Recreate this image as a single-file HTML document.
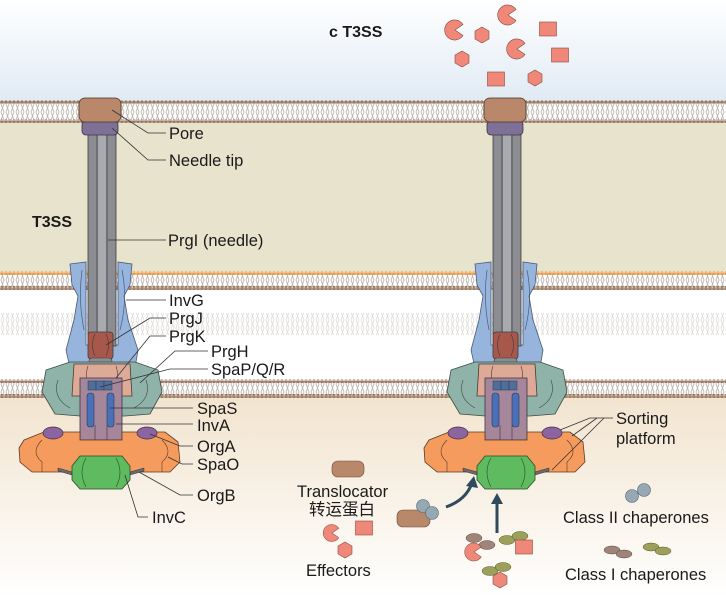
<!DOCTYPE html>
<html><head><meta charset="utf-8"><style>
html,body{margin:0;padding:0;background:#fff}
svg{display:block}
text{font-family:"Liberation Sans","Noto Sans CJK SC",sans-serif;fill:#1a1a1a}
</style></head><body>
<svg width="726" height="599" viewBox="0 0 726 599" xmlns="http://www.w3.org/2000/svg">
<defs>
<linearGradient id="sky" x1="0" y1="0" x2="0" y2="1"><stop offset="0" stop-color="#ffffff"/><stop offset="1" stop-color="#e0eaf4"/></linearGradient>
<linearGradient id="cyto" x1="0" y1="0" x2="0" y2="1"><stop offset="0" stop-color="#f2e4cf"/><stop offset="1" stop-color="#ffffff"/></linearGradient>
<pattern id="lip" width="5" height="16" patternUnits="userSpaceOnUse"><path d="M1 0 L4 8 L1 16 M4 0 L1 8 L4 16" stroke="#bdb6b0" stroke-width="0.9" fill="none"/></pattern>
<pattern id="dots" width="4" height="4" patternUnits="userSpaceOnUse"><circle cx="2" cy="2" r="1.6" fill="#9b7b63"/></pattern>
<pattern id="odots" width="4" height="4" patternUnits="userSpaceOnUse"><circle cx="2" cy="2" r="1.6" fill="#eb9a4a"/></pattern>
<g id="app">
 <path d="M70 264 L86 262 L86 345 L118 345 L118 262 L132 264 L130 285 L124 296 L128 320 L138 350 L135 368 L70 368 L66 350 L74 320 L78 296 L72 285 Z" fill="#97b4dc" stroke="#4a5b7a" stroke-width="0.8"/>
 <path d="M82 270 Q78 300 84 330 M122 270 Q128 300 120 330" stroke="#4a5b7a" stroke-width="0.7" fill="none"/>
 <rect x="88" y="134" width="28" height="212" fill="#8b8d92" stroke="#3c3c40" stroke-width="0.8"/>
 <path d="M97 134 V346 M107 134 V346" stroke="#3c3c40" stroke-width="0.7"/>
 <rect x="98" y="134" width="8" height="212" fill="#a8aaae"/>
 <rect x="88" y="332" width="25" height="27" rx="3" fill="#a8574b" stroke="#3c3c40" stroke-width="0.8"/>
 <path d="M95 334 Q90 345 95 356 M106 334 Q111 345 106 356" stroke="#3c3c40" stroke-width="0.6" fill="none"/>
 <rect x="89" y="358" width="23" height="6" rx="3" fill="#8b8d92" stroke="#3c3c40" stroke-width="0.6"/>
 <path d="M46 370 L70 362 L135 362 L158 370 L162 392 L150 414 L125 416 L80 416 L55 414 L42 392 Z" fill="#8fb3a8" stroke="#3c4a44" stroke-width="0.8"/>
 <path d="M58 380 Q52 398 70 408 M146 380 Q152 398 134 408" stroke="#3c4a44" stroke-width="0.6" fill="none"/>
 <path d="M74 364 L130 364 L132 396 L72 396 Z" fill="#deaa98" stroke="#4a3a36" stroke-width="0.8"/>
 <path d="M88 366 Q84 378 90 386 M116 366 Q120 378 114 386" stroke="#4a3a36" stroke-width="0.6" fill="none"/>
 <path d="M80 378 L122 378 L122 440 L80 440 Z" fill="#a5869a" stroke="#3c3440" stroke-width="0.8"/>
 <path d="M95 425 V440 M107 425 V440" stroke="#3c3440" stroke-width="0.6"/>
 <rect x="87" y="393" width="7" height="34" rx="3" fill="#4a70b8" stroke="#2a3a5a" stroke-width="0.6"/>
 <rect x="107" y="393" width="7" height="34" rx="3" fill="#4a70b8" stroke="#2a3a5a" stroke-width="0.6"/>
 <rect x="88" y="381" width="8" height="9" fill="#4f6f99" stroke="#2a3a5a" stroke-width="0.5"/>
 <rect x="96" y="381" width="8" height="9" fill="#4f6f99" stroke="#2a3a5a" stroke-width="0.5"/>
 <rect x="104" y="381" width="8" height="9" fill="#4f6f99" stroke="#2a3a5a" stroke-width="0.5"/>
 <path d="M24 440 L44 432 L80 432 L80 440 L122 440 L122 432 L165 432 L178 442 L180 462 L170 472 L32 472 L20 462 L19 448 Z" fill="#f59b5e" stroke="#5a3a22" stroke-width="0.8"/>
 <path d="M42 440 Q30 452 42 462 V472 M162 440 Q174 452 162 462 V472" stroke="#5a3a22" stroke-width="0.6" fill="none"/>
 <ellipse cx="53" cy="433" rx="10" ry="6" fill="#8c64a0" stroke="#3c2e44" stroke-width="0.7"/>
 <ellipse cx="147" cy="433" rx="10" ry="6" fill="#8c64a0" stroke="#3c2e44" stroke-width="0.7"/>
 <path d="M58 468 L72 472 L72 475 L58 471 Z M144 468 L130 472 L130 475 L144 471 Z" fill="#6a6a6a" stroke="#333" stroke-width="0.5"/>
 <path d="M80 456 L122 456 L130 466 L130 480 L122 489 L80 489 L72 480 L72 466 Z" fill="#5fbb5f" stroke="#2a4a2a" stroke-width="0.8"/>
 <path d="M86 458 Q78 472 86 487 M116 458 Q124 472 116 487" stroke="#2a4a2a" stroke-width="0.6" fill="none"/>
 <rect x="82" y="121" width="36" height="14" rx="4" fill="#7e7096" stroke="#3c3444" stroke-width="0.8"/>
 <rect x="79" y="98" width="42" height="24" rx="6" fill="#b98769" stroke="#4a3426" stroke-width="0.8"/>
</g>
<g id="pac"><path d="M0 0 L8 -5.5 A10 10 0 1 0 8 5.5 Z" fill="#ef8878" stroke="#8a4a40" stroke-width="0.6"/></g>
<g id="hex"><polygon points="0,-8 7,-4 7,4 0,8 -7,4 -7,-4" fill="#ef8878" stroke="#8a4a40" stroke-width="0.6"/></g>
<g id="sq"><rect x="-8.5" y="-7" width="17" height="14" fill="#ef8878" stroke="#8a4a40" stroke-width="0.6"/></g>
</defs>

<rect x="0" y="0" width="726" height="102" fill="url(#sky)"/>
<rect x="0" y="102" width="726" height="20" fill="#fff"/>
<rect x="0" y="102" width="726" height="20" fill="url(#lip)"/>
<rect x="0" y="101.5" width="726" height="2" fill="#b39680"/>
<rect x="0" y="100" width="726" height="4" fill="url(#dots)"/>
<rect x="0" y="120.5" width="726" height="2" fill="#b39680"/>
<rect x="0" y="119" width="726" height="4" fill="url(#dots)"/>
<rect x="0" y="123" width="726" height="150" fill="#e7e3cd"/>
<rect x="0" y="273" width="726" height="16" fill="#fff"/>
<rect x="0" y="273" width="726" height="16" fill="url(#lip)"/>
<rect x="0" y="272.5" width="726" height="2" fill="#f0b27a"/>
<rect x="0" y="271" width="726" height="4" fill="url(#odots)"/>
<rect x="0" y="287.5" width="726" height="2" fill="#b39680"/>
<rect x="0" y="286" width="726" height="4" fill="url(#dots)"/>
<rect x="0" y="290" width="726" height="90" fill="#fff"/>
<rect x="0" y="313" width="726" height="22" fill="url(#lip)" opacity="0.45"/>
<rect x="0" y="381" width="726" height="16" fill="#fff"/>
<rect x="0" y="381" width="726" height="16" fill="url(#lip)"/>
<rect x="0" y="380.5" width="726" height="2" fill="#b39680"/>
<rect x="0" y="379" width="726" height="4" fill="url(#dots)"/>
<rect x="0" y="395.5" width="726" height="2" fill="#b39680"/>
<rect x="0" y="394" width="726" height="4" fill="url(#dots)"/>
<rect x="0" y="398" width="726" height="201" fill="url(#cyto)"/>

<use href="#app"/>
<use href="#app" transform="translate(405,0)"/>

<g stroke="#333" stroke-width="0.8" fill="none">
<path d="M112 110 L148 133 L166 133"/>
<path d="M112 128 L148 160 L166 160"/>
<path d="M108 240 L166 240"/>
<path d="M126 300 L166 300"/>
<path d="M106 345 L150 318 L166 318"/>
<path d="M116 378 L150 336 L166 336"/>
<path d="M140 383 L175 351 L208 351"/>
<path d="M100 387 L170 369 L208 369"/>
<path d="M110 408 L193 408"/>
<path d="M116 424 L193 424"/>
<path d="M150 434 L180 446 L193 446"/>
<path d="M168 457 L182 464 L193 464"/>
<path d="M139 472 L180 495 L193 495"/>
<path d="M125 475 L138 517 L148 517"/>
</g>
<g font-size="16.5">
<text x="169" y="139">Pore</text>
<text x="169" y="166">Needle tip</text>
<text x="168" y="246">PrgI (needle)</text>
<text x="169" y="306">InvG</text>
<text x="169" y="324">PrgJ</text>
<text x="169" y="342">PrgK</text>
<text x="211" y="357">PrgH</text>
<text x="211" y="375">SpaP/Q/R</text>
<text x="197" y="414">SpaS</text>
<text x="197" y="431">InvA</text>
<text x="197" y="452">OrgA</text>
<text x="197" y="470">SpaO</text>
<text x="197" y="501">OrgB</text>
<text x="152" y="523">InvC</text>
</g>
<text x="32" y="227" font-size="16" font-weight="bold">T3SS</text>
<text x="329" y="37" font-size="16" font-weight="bold">c  T3SS</text>

<g stroke="#333" stroke-width="0.8" fill="none">
<path d="M560 430 L590 418 L613 418"/>
<path d="M572 436 L597 418"/>
<path d="M552 470 L604 418"/>
</g>
<text x="616" y="424" font-size="16.5">Sorting</text>
<text x="616" y="444" font-size="16.5">platform</text>

<use href="#pac" transform="translate(455,30)"/>
<use href="#pac" transform="translate(508,15)"/>
<use href="#pac" transform="translate(517,49)"/>
<use href="#hex" transform="translate(482,35)"/>
<use href="#hex" transform="translate(462,59)"/>
<use href="#hex" transform="translate(535,78)"/>
<use href="#sq" transform="translate(548,29)"/>
<use href="#sq" transform="translate(560,55)"/>
<use href="#sq" transform="translate(496,79)"/>

<rect x="332" y="461" width="32" height="16" rx="6" fill="#b98769" stroke="#6a4a36" stroke-width="0.6"/>
<text x="297" y="497" font-size="16.5">Translocator</text>
<text x="309" y="515" font-size="16.5">转运蛋白</text>
<use href="#pac" transform="translate(332,533) scale(0.85)"/>
<use href="#sq" transform="translate(364,528)"/>
<use href="#hex" transform="translate(345,550)"/>
<text x="306" y="576" font-size="16.5">Effectors</text>

<rect x="397" y="510" width="33" height="17" rx="6" fill="#b98769" stroke="#6a4a36" stroke-width="0.6"/>
<circle cx="423" cy="506" r="6.5" fill="#95a8b4" stroke="#55646e" stroke-width="0.6"/>
<circle cx="432" cy="513" r="6.5" fill="#95a8b4" stroke="#55646e" stroke-width="0.6"/>
<path d="M446 507 Q466 500 472 483" stroke="#2f4a5a" stroke-width="3" fill="none"/>
<polygon points="466,486 474,476 478,488" fill="#2f4a5a"/>
<path d="M497 533 V502" stroke="#2f4a5a" stroke-width="3"/>
<polygon points="491,504 497,493 503,504" fill="#2f4a5a"/>

<ellipse cx="474" cy="538" rx="8" ry="4.5" fill="#a08479" stroke="#5a4a44" stroke-width="0.5"/>
<ellipse cx="487" cy="545" rx="8" ry="4.5" fill="#a08479" stroke="#5a4a44" stroke-width="0.5"/>
<use href="#pac" transform="translate(474,552) scale(0.9)"/>
<ellipse cx="507" cy="540" rx="8" ry="4.5" fill="#9ca05a" stroke="#555a2a" stroke-width="0.5"/>
<ellipse cx="520" cy="536" rx="8" ry="4.5" fill="#9ca05a" stroke="#555a2a" stroke-width="0.5"/>
<use href="#sq" transform="translate(524,547)"/>
<ellipse cx="490" cy="571" rx="8" ry="4.5" fill="#9ca05a" stroke="#555a2a" stroke-width="0.5"/>
<ellipse cx="503" cy="567" rx="8" ry="4.5" fill="#9ca05a" stroke="#555a2a" stroke-width="0.5"/>
<use href="#hex" transform="translate(500,580)"/>

<circle cx="632" cy="496" r="6.5" fill="#95a8b4" stroke="#55646e" stroke-width="0.6"/>
<circle cx="644" cy="490" r="6.5" fill="#95a8b4" stroke="#55646e" stroke-width="0.6"/>
<text x="563" y="523" font-size="16.5">Class II chaperones</text>
<ellipse cx="612" cy="550" rx="8" ry="4" fill="#a08479" stroke="#5a4a44" stroke-width="0.5"/>
<ellipse cx="624" cy="554" rx="8" ry="4" fill="#a08479" stroke="#5a4a44" stroke-width="0.5"/>
<ellipse cx="651" cy="547" rx="8" ry="4" fill="#9ca05a" stroke="#555a2a" stroke-width="0.5"/>
<ellipse cx="663" cy="551" rx="8" ry="4" fill="#9ca05a" stroke="#555a2a" stroke-width="0.5"/>
<text x="565" y="580" font-size="16.5">Class I chaperones</text>
</svg>
</body></html>
